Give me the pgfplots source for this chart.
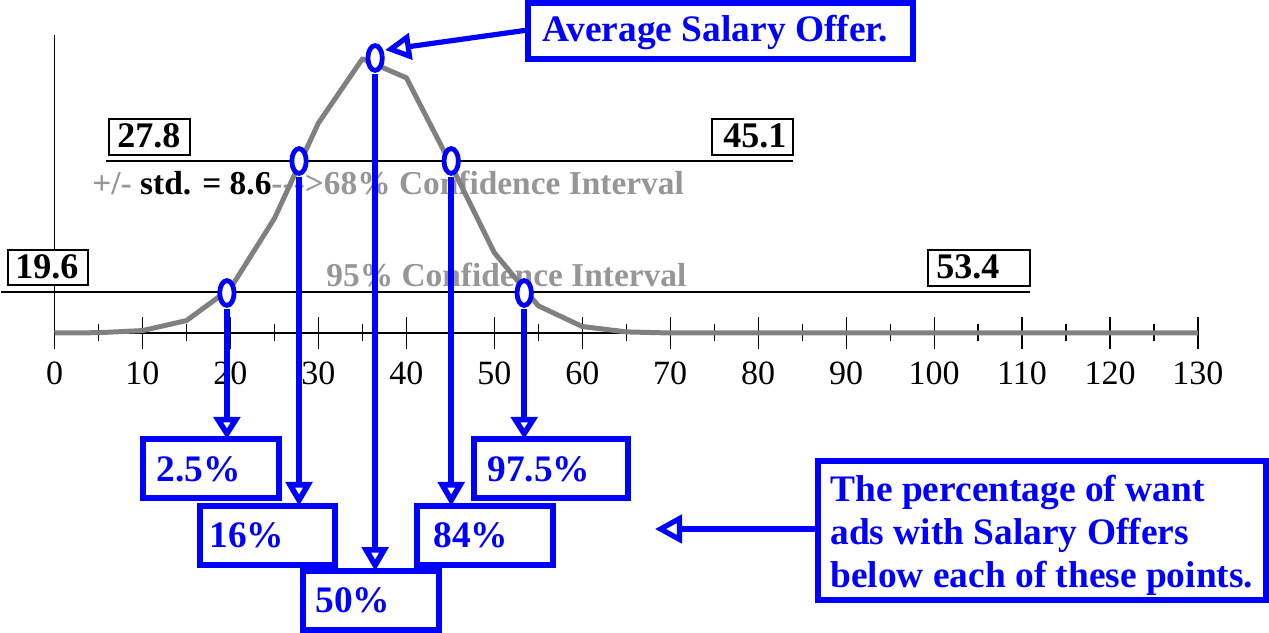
\documentclass[border=0pt]{standalone}
\usepackage{pgfplots}
\pgfplotsset{compat=1.18}
\usepackage{fontspec}
\setmainfont{Liberation Serif}
\usetikzlibrary{arrows.meta}
\definecolor{cblue}{RGB}{0,0,255}
\definecolor{cgray}{RGB}{128,128,128}
\definecolor{tgray}{RGB}{150,150,150}
\newcommand{\bigbf}{\fontsize{18.7}{21.25}\selectfont\bfseries}
\newcommand{\numbf}{\fontsize{18}{20}\selectfont\bfseries}
\newcommand{\midbf}{\fontsize{16.7}{20}\selectfont\bfseries}
\begin{document}
\begin{tikzpicture}
\useasboundingbox (0,0) rectangle (634.5pt,316pt);
% texts under the plot (pixel coordinates of the reference)
\begin{scope}[shift={(0pt,316pt)}, x=0.5pt, y=-0.5pt]
  \node[anchor=base west, inner sep=0pt, font=\midbf, text=tgray] at (92,195)
    {+/- \textcolor{black}{std. = 8.6}-{}-{}->68\% Confidence Interval};
  \node[anchor=base west, inner sep=0pt, font=\midbf, text=tgray] at (326,287)
    {95\% Confidence Interval};
\end{scope}
\begin{axis}[
  at={(27.25pt,149.5pt)}, anchor=origin,
  x=4.398pt, y=0.5pt,
  xmin=0, xmax=130, ymin=0, ymax=298,
  clip=false,
  axis x line=bottom, axis y line=left,
  axis line style={-, line width=0.6pt, black},
  xtick={0,10,...,130}, minor x tick num=1, ytick=\empty,
  tick align=center, major tick length=16pt, minor tick length=8.5pt,
  every tick/.style={black, line width=0.6pt},
  xticklabel style={font=\fontsize{17}{19}\selectfont, inner sep=0pt, yshift=-6pt},
  /pgf/number format/assume math mode=true,
]
\addplot[cgray, line width=2.5pt, line join=round] coordinates {
  (0,0) (5,0.3) (10,2.4) (15,12.4) (20,44.6) (25,114.5) (30,209.9) (35,274.1)
  (40,255.2) (45,169.6) (50,80.3) (55,27.2) (60,6.5) (65,1.1) (70,0) (75,0)
  (80,0) (85,0) (90,0) (95,0) (100,0) (105,0) (110,0) (115,0) (120,0) (125,0) (130,0)};
\addplot[black, line width=1.25pt] coordinates {(5.86,172) (83.96,172)};
\addplot[black, line width=1.25pt] coordinates {(-6.08,41) (110.9,41)};
\addplot[cblue, line width=2.8pt, -{Triangle[open, length=11pt, width=13pt]}] coordinates {(19.6,24) (19.6,-106)};
\addplot[cblue, line width=2.8pt, -{Triangle[open, length=12pt, width=13pt]}] coordinates {(27.8,156) (27.8,-173)};
\addplot[cblue, line width=2.8pt, -{Triangle[open, length=12pt, width=13pt]}] coordinates {(36.45,259) (36.45,-238)};
\addplot[cblue, line width=2.8pt, -{Triangle[open, length=12pt, width=13pt]}] coordinates {(45.1,156) (45.1,-173)};
\addplot[cblue, line width=2.8pt, -{Triangle[open, length=11pt, width=13pt]}] coordinates {(53.4,24) (53.4,-106)};
\addplot[only marks, mark=*, mark size=6.2pt,
  mark options={draw=cblue, fill=white, line width=2.4pt, xscale=0.58}]
  coordinates {(19.6,40) (27.8,172) (36.45,275) (45.1,172) (53.4,40)};
\end{axis}
% boxes and arrows over the plot
\begin{scope}[shift={(0pt,316pt)}, x=0.5pt, y=-0.5pt]
  \draw[black, fill=white, line width=1.3pt] (109,119) rectangle (190,155);
  \node[anchor=base west, inner sep=0pt, font=\numbf] at (117,148) {27.8};
  \draw[black, fill=white, line width=1.3pt] (712,119) rectangle (793,155);
  \node[anchor=base west, inner sep=0pt, font=\numbf] at (723,148) {45.1};
  \draw[black, fill=white, line width=1.3pt] (8,250) rectangle (88,285);
  \node[anchor=base west, inner sep=0pt, font=\numbf] at (15,279) {19.6};
  \draw[black, fill=white, line width=1.3pt] (928,250) rectangle (1030,286);
  \node[anchor=base west, inner sep=0pt, font=\numbf] at (936,279) {53.4};
  \draw[cblue, line width=2.6pt] (528,3) rectangle (913,59);
  \node[anchor=base west, inner sep=0pt, font=\bigbf, text=cblue] at (542,42) {Average Salary Offer.};
  \draw[cblue, line width=2.6pt, -{Triangle[open, length=13pt, width=13pt]}] (528,30) -- (385,50);
  \draw[cblue, line width=2.6pt] (143,439) rectangle (279,498);
  \node[anchor=base west, inner sep=0pt, font=\bigbf, text=cblue] at (156,482) {2.5\%};
  \draw[cblue, line width=2.6pt] (200,506) rectangle (335,565);
  \node[anchor=base west, inner sep=0pt, font=\bigbf, text=cblue] at (209,548) {16\%};
  \draw[cblue, line width=2.6pt] (303,571) rectangle (439,630);
  \node[anchor=base west, inner sep=0pt, font=\bigbf, text=cblue] at (315,613) {50\%};
  \draw[cblue, line width=2.6pt] (417,506) rectangle (553,565);
  \node[anchor=base west, inner sep=0pt, font=\bigbf, text=cblue] at (433,548) {84\%};
  \draw[cblue, line width=2.6pt] (474,439) rectangle (628,498);
  \node[anchor=base west, inner sep=0pt, font=\bigbf, text=cblue] at (487,482) {97.5\%};
  \draw[cblue, line width=2.6pt] (818,461) rectangle (1266,600);
  \node[anchor=base west, inner sep=0pt, font=\bigbf, text=cblue] at (830,502) {The percentage of want};
  \node[anchor=base west, inner sep=0pt, font=\bigbf, text=cblue] at (830,545) {ads with Salary Offers};
  \node[anchor=base west, inner sep=0pt, font=\bigbf, text=cblue] at (830,587) {below each of these points.};
  \draw[cblue, line width=2.6pt, -{Triangle[open, length=13.5pt, width=14pt]}] (818,529) -- (655,529);
\end{scope}
\end{tikzpicture}
\end{document}
